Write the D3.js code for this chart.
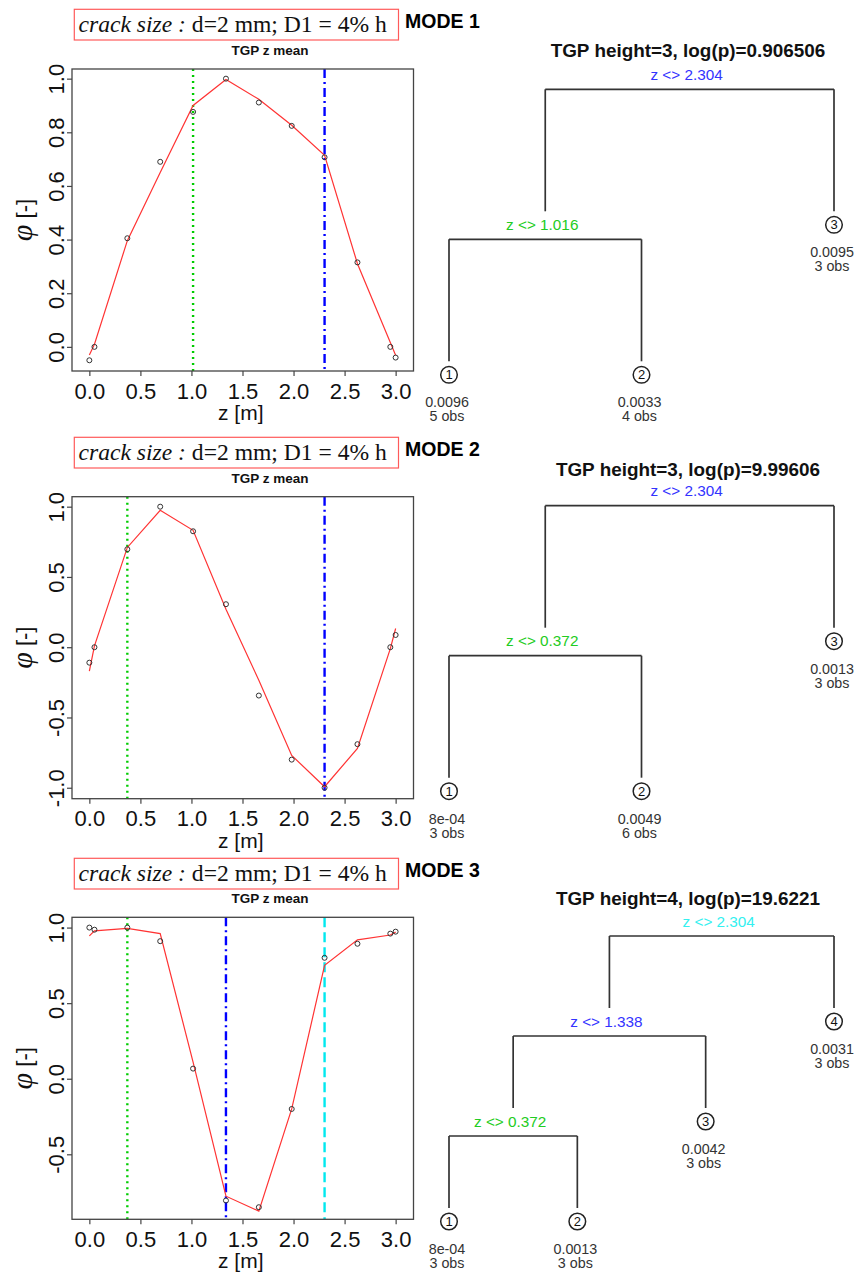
<!DOCTYPE html>
<html><head><meta charset="utf-8">
<script src="https://cdn.jsdelivr.net/npm/d3@7"></script>
<style>body{margin:0;background:#fff}svg{display:block}</style>
</head><body>
<svg id="c" width="856" height="1282"></svg>
<script>
// ---------- data ----------
const zObs = [0, 0.05, 0.372, 0.694, 1.016, 1.338, 1.66, 1.982, 2.304, 2.626, 2.948, 3.0];
const phiObsMode1  = [-0.05, 0.0, 0.405, 0.69, 0.876, 1.0, 0.911, 0.824, 0.707, 0.315, 0.0, -0.04];
const phiMeanMode1 = [-0.03, 0.01, 0.396, 0.65, 0.90, 0.997, 0.923, 0.826, 0.714, 0.31, 0.016, -0.031];
const phiObsMode2  = [-0.11, 0.0, 0.697, 1.0, 0.825, 0.306, -0.344, -0.80, -1.0, -0.69, 0.0, 0.087];
const phiMeanMode2 = [-0.17, 0.01, 0.71, 0.974, 0.832, 0.27, -0.235, -0.77, -0.993, -0.72, -0.01, 0.133];
const phiObsMode3  = [1.0, 0.986, 1.0, 0.91, 0.067, -0.806, -0.85, -0.20, 0.80, 0.893, 0.96, 0.973];
const phiMeanMode3 = [0.945, 0.978, 0.995, 0.96, 0.11, -0.777, -0.876, -0.20, 0.75, 0.919, 0.951, 0.97];
const splitsMode1 = [1.016, 2.304];
const splitsMode2 = [0.372, 2.304];
const splitsMode3 = [0.372, 1.338, 2.304];
const xTickValues = [0, 0.5, 1.0, 1.5, 2.0, 2.5, 3.0];
const yTicksMode1 = [0, 0.2, 0.4, 0.6, 0.8, 1.0];
const yTicksMode2 = [-1.0, -0.5, 0, 0.5, 1.0];
const yTicksMode3 = [-0.5, 0, 0.5, 1.0];
const xDomain = [-0.17, 3.175];
const yDomainMode1 = [-0.09, 1.036];
const yDomainMode2 = [-1.078, 1.071];
const yDomainMode3 = [-0.93, 1.068];
const modeNames = ["MODE 1", "MODE 2", "MODE 3"];
const crackLabelItalic = "crack size :";
const crackLabelRest = " d=2 mm; D1 = 4% h";
const plotTitle = "TGP z mean";
const xLabel = "z [m]";
const treeTitles = ["TGP height=3, log(p)=0.906506", "TGP height=3, log(p)=9.99606", "TGP height=4, log(p)=19.6221"];
const treeMode1 = {split: 2.304, children: [
  {split: 1.016, children: [{val: "0.0096", n: 5}, {val: "0.0033", n: 4}]},
  {val: "0.0095", n: 3}]};
const treeMode2 = {split: 2.304, children: [
  {split: 0.372, children: [{val: "8e-04", n: 3}, {val: "0.0049", n: 6}]},
  {val: "0.0013", n: 3}]};
const treeMode3 = {split: 2.304, children: [
  {split: 1.338, children: [
    {split: 0.372, children: [{val: "8e-04", n: 3}, {val: "0.0013", n: 3}]},
    {val: "0.0042", n: 3}]},
  {val: "0.0031", n: 3}]};

// ---------- styles / layout ----------
const SANS = "'Liberation Sans', Arial, sans-serif";
const SERIF = "'Liberation Serif', 'Times New Roman', serif";
const rankColor = ["#00cc00", "#0000ff", "#00e8ee"];
const rankText  = ["#22cc22", "#3333ff", "#33f0f0"];
const rankDash  = ["2,4", "9,4,2,4", "10,5"];
const fmt = v => d3.format(".1f")(v).replace("\u2212", "-");

const svg = d3.select("#c");

const panels = [
  {obs: phiObsMode1, mean: phiMeanMode1, splits: splitsMode1, yTicks: yTicksMode1, yDom: yDomainMode1, off: 0, hdrTop: 9.3},
  {obs: phiObsMode2, mean: phiMeanMode2, splits: splitsMode2, yTicks: yTicksMode2, yDom: yDomainMode2, off: 427.7, hdrTop: 437.3},
  {obs: phiObsMode3, mean: phiMeanMode3, splits: splitsMode3, yTicks: yTicksMode3, yDom: yDomainMode3, off: 848.3, hdrTop: 858.3}
];
const trees = [
  {data: treeMode1, splits: splitsMode1, titleY: 56.5, y0: 89.3},
  {data: treeMode2, splits: splitsMode2, titleY: 476, y0: 505.7},
  {data: treeMode3, splits: splitsMode3, titleY: 905, y0: 936}
];

const boxL = 72, boxR = 413.5, boxH = 302;

panels.forEach((p, i) => {
  const top = 69 + p.off, bot = top + boxH;
  const x = d3.scaleLinear().domain(xDomain).range([boxL, boxR]);
  const y = d3.scaleLinear().domain(p.yDom).range([bot, top]);
  const g = svg.append("g");

  // header box
  g.append("rect").attr("x", 74.3).attr("y", p.hdrTop).attr("width", 324.2).attr("height", 30.7)
    .attr("fill", "none").attr("stroke", "#ff5a5a").attr("stroke-width", 1.2);
  const ht = g.append("text").attr("x", 78.5).attr("y", p.hdrTop + 22.3)
    .attr("font-family", SERIF).attr("font-size", 23.6).attr("fill", "#111");
  ht.append("tspan").attr("font-style", "italic").text(crackLabelItalic);
  ht.append("tspan").text(crackLabelRest);
  g.append("text").attr("x", 405).attr("y", p.hdrTop + 18.4)
    .attr("font-family", SANS).attr("font-weight", "bold").attr("font-size", 19.5).attr("fill", "#000")
    .text(modeNames[i]);

  // plot title
  g.append("text").attr("x", 270).attr("y", top - 14).attr("text-anchor", "middle")
    .attr("font-family", SANS).attr("font-weight", "bold").attr("font-size", 13.5).attr("fill", "#111")
    .text(plotTitle);

  // split lines
  const sorted = p.splits.slice().sort((a, b) => a - b);
  sorted.forEach((s, r) => {
    g.append("line").attr("x1", x(s)).attr("x2", x(s)).attr("y1", top).attr("y2", bot)
      .attr("stroke", rankColor[r]).attr("stroke-width", 2.4).attr("stroke-dasharray", rankDash[r]);
  });

  // mean line
  const line = d3.line().x((d, k) => x(zObs[k])).y(d => y(d));
  g.append("path").datum(p.mean).attr("d", line).attr("fill", "none")
    .attr("stroke", "#ff3333").attr("stroke-width", 1.2);

  // observed points
  g.selectAll("circle.obs").data(p.obs).join("circle").attr("class", "obs")
    .attr("cx", (d, k) => x(zObs[k])).attr("cy", d => y(d)).attr("r", 2.5)
    .attr("fill", "none").attr("stroke", "#333").attr("stroke-width", 1);

  // box
  g.append("rect").attr("x", boxL).attr("y", top).attr("width", boxR - boxL).attr("height", boxH)
    .attr("fill", "none").attr("stroke", "#444").attr("stroke-width", 1.3);

  // x axis
  const xa = g.append("g").attr("transform", `translate(0,${bot})`)
    .call(d3.axisBottom(x).tickValues(xTickValues).tickSize(5).tickFormat(fmt));
  xa.select(".domain").remove();
  xa.selectAll(".tick line").attr("stroke", "#444").attr("stroke-width", 1.2);
  xa.selectAll(".tick text").attr("y", 27.5).attr("dy", 0).attr("font-family", SANS)
    .attr("font-size", 22).attr("fill", "#111");

  // y axis
  const ya = g.append("g").attr("transform", `translate(${boxL},0)`)
    .call(d3.axisLeft(y).tickValues(p.yTicks).tickSize(5).tickFormat(fmt));
  ya.select(".domain").remove();
  ya.selectAll(".tick line").attr("stroke", "#444").attr("stroke-width", 1.2);
  ya.selectAll(".tick text").attr("x", null).attr("dy", null).attr("y", null)
    .attr("transform", "translate(-8.5,0) rotate(-90)").attr("text-anchor", "middle")
    .attr("font-family", SANS).attr("font-size", 22).attr("fill", "#111");

  // axis labels
  g.append("text").attr("x", (boxL + boxR) / 2 - 2).attr("y", bot + 49).attr("text-anchor", "middle")
    .attr("font-family", SANS).attr("font-size", 21).attr("fill", "#111").text(xLabel);
  const yl = g.append("text").attr("transform", `translate(32,${(top + bot) / 2}) rotate(-90)`)
    .attr("text-anchor", "middle").attr("fill", "#111");
  yl.append("tspan").attr("font-family", SERIF).attr("font-style", "italic").attr("font-size", 30).text("\u03C6");
  yl.append("tspan").attr("font-family", SANS).attr("font-size", 22).text(" [-]");
});

// ---------- trees ----------
trees.forEach((t, i) => {
  const g = svg.append("g");
  const root = d3.hierarchy(t.data, d => d.children);
  d3.cluster().nodeSize([1, 1]).separation(() => 1)(root);
  const leaves = root.leaves();
  const xs = d3.scaleLinear().domain(d3.extent(leaves, d => d.x)).range([449, 834]);
  const maxDepth = d3.max(leaves, d => d.depth);
  const ys = d3.scaleLinear().domain([0, maxDepth]).range([t.y0, t.y0 + 300]);
  const sorted = t.splits.slice().sort((a, b) => a - b);
  const stroke = "#333";

  g.append("text").attr("x", 688).attr("y", t.titleY).attr("text-anchor", "middle")
    .attr("font-family", SANS).attr("font-weight", "bold").attr("font-size", 18.9).attr("fill", "#111")
    .text(treeTitles[i]);

  root.each(node => {
    const nx = xs(node.x), ny = ys(node.depth);
    if (node.parent) {
      g.append("line").attr("x1", nx).attr("x2", nx).attr("y1", ys(node.parent.depth)).attr("y2", ny - 28)
        .attr("stroke", stroke).attr("stroke-width", 1.7);
    }
    if (node.children) {
      const cx = node.children.map(c => xs(c.x));
      g.append("line").attr("x1", d3.min(cx)).attr("x2", d3.max(cx)).attr("y1", ny).attr("y2", ny)
        .attr("stroke", stroke).attr("stroke-width", 1.7);
      const r = sorted.indexOf(node.data.split);
      g.append("text").attr("x", nx - 3).attr("y", ny - 9.5).attr("text-anchor", "middle")
        .attr("font-family", SANS).attr("font-size", 15.3).attr("fill", rankText[r])
        .text("z <> " + node.data.split);
    }
  });
  leaves.forEach((leaf, k) => {
    const nx = xs(leaf.x), ny = ys(leaf.depth);
    g.append("circle").attr("cx", nx).attr("cy", ny - 14.5).attr("r", 8.3)
      .attr("fill", "#fff").attr("stroke", "#222").attr("stroke-width", 1.5);
    g.append("text").attr("x", nx).attr("y", ny - 10).attr("text-anchor", "middle")
      .attr("font-family", SANS).attr("font-size", 13).attr("fill", "#111").text(k + 1);
    g.append("text").attr("x", nx - 2).attr("y", ny + 18).attr("text-anchor", "middle")
      .attr("font-family", SANS).attr("font-size", 14.3).attr("fill", "#333").text(leaf.data.val);
    g.append("text").attr("x", nx - 2).attr("y", ny + 32).attr("text-anchor", "middle")
      .attr("font-family", SANS).attr("font-size", 14.3).attr("fill", "#333").text(leaf.data.n + " obs");
  });
});
</script>
</body></html>
